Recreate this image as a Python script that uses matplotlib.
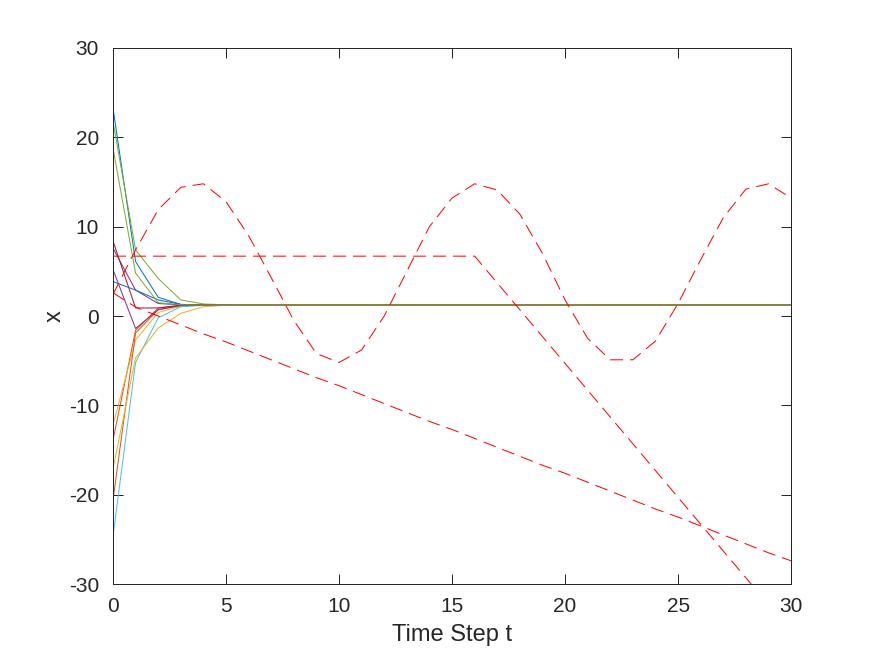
import numpy as np
import matplotlib
matplotlib.use("Agg")
import matplotlib.pyplot as plt

plt.rcParams['font.family'] = ['Liberation Sans', 'DejaVu Sans']
plt.rcParams['axes.unicode_minus'] = False

# time axis
t = np.arange(0, 31)

# consensus value the normal agents settle on
x_final = 1.23

# normal agents: values for t = 0..5, afterwards they sit at x_final
agents_head = [
    [23.3, 6.1, 2.1, 1.3, 1.24, 1.23],     # blue
    [-13.9, -1.6, 0.9, 1.2, 1.23, 1.23],   # orange
    [-12.2, -2.7, 0.4, 1.1, 1.22, 1.23],   # yellow
    [7.6, 2.9, 1.4, 1.25, 1.23, 1.23],     # purple
    [21.8, 7.4, 4.2, 1.8, 1.35, 1.25],     # green
    [-24.7, -5.2, -0.2, 1.04, 1.2, 1.23],  # light blue
    [8.4, 0.9, 0.9, 1.2, 1.23, 1.23],      # dark red
    [3.85, 2.9, 1.8, 1.3, 1.24, 1.23],     # blue
    [-20.6, -1.9, 0.7, 1.15, 1.22, 1.23],  # orange
    [-17.1, -4.7, -1.35, 0.3, 1.04, 1.2],  # yellow
    [5.2, -1.4, 0.7, 1.2, 1.23, 1.23],     # purple
    [18.8, 4.8, 1.5, 1.25, 1.23, 1.23],    # green
]

# misbehaving agents (red dashed)
attack_sine = [2.4, 7.4, 11.9, 14.4, 14.8, 12.8, 9.0, 4.3, -0.5, -4.2, -5.2,
               -3.8, 0.0, 5.0, 10.0, 13.2, 14.8, 14.1, 11.4, 7.0, 1.8,
               -2.5, -4.9, -4.9, -2.8, 1.4, 6.3, 11.0, 14.2, 14.8, 13.2]
attack_step = [6.7] * 17 + [3.7, 0.7, -2.3, -5.3, -8.3, -11.3, -14.3, -17.3,
                            -20.3, -23.3, -26.3, -29.3, -32.3, -35.3]
attack_ramp = [2.6, 1.0, 0.0, -1.0, -2.0, -2.9, -3.9, -4.9, -5.9, -6.9, -7.8,
               -8.8, -9.8, -10.8, -11.8, -12.7, -13.7, -14.7, -15.7, -16.7,
               -17.6, -18.6, -19.6, -20.6, -21.6, -22.5, -23.5, -24.5, -25.5,
               -26.5, -27.4]

colors = ['#0072BD', '#D95319', '#EDB120', '#7E2F8E', '#77AC30', '#4DBEEE', '#A2142F']

fig = plt.figure(figsize=(8.75, 6.57), dpi=100)
ax = fig.add_axes([0.1291, 0.111, 0.775, 0.816])

lw = 0.72
for i, head in enumerate(agents_head):
    traj = np.concatenate([head, np.full(len(t) - len(head), x_final)])
    ax.plot(t, traj, color=colors[i % len(colors)], lw=lw)

for attack in (attack_sine, attack_step, attack_ramp):
    ax.plot(t, attack, color='red', lw=lw, linestyle=(0, (13, 7)))

ax.set_xlim(0, 30)
ax.set_ylim(-30, 30)
ax.set_xticks(np.arange(0, 31, 5))
ax.set_yticks(np.arange(-30, 31, 10))

axcol = '#262626'
for s in ax.spines.values():
    s.set_color(axcol)
    s.set_linewidth(0.72)
ax.tick_params(direction='in', top=True, right=True, length=7, width=0.72,
               color=axcol, labelcolor=axcol, labelsize=15)
ax.tick_params(axis='x', pad=9)
ax.tick_params(axis='y', pad=10)
ax.set_xlabel('Time Step t', fontsize=17, color=axcol, labelpad=6)
ax.set_ylabel('x', fontsize=17, color=axcol, labelpad=2)

fig.savefig('out.png', dpi=100)
